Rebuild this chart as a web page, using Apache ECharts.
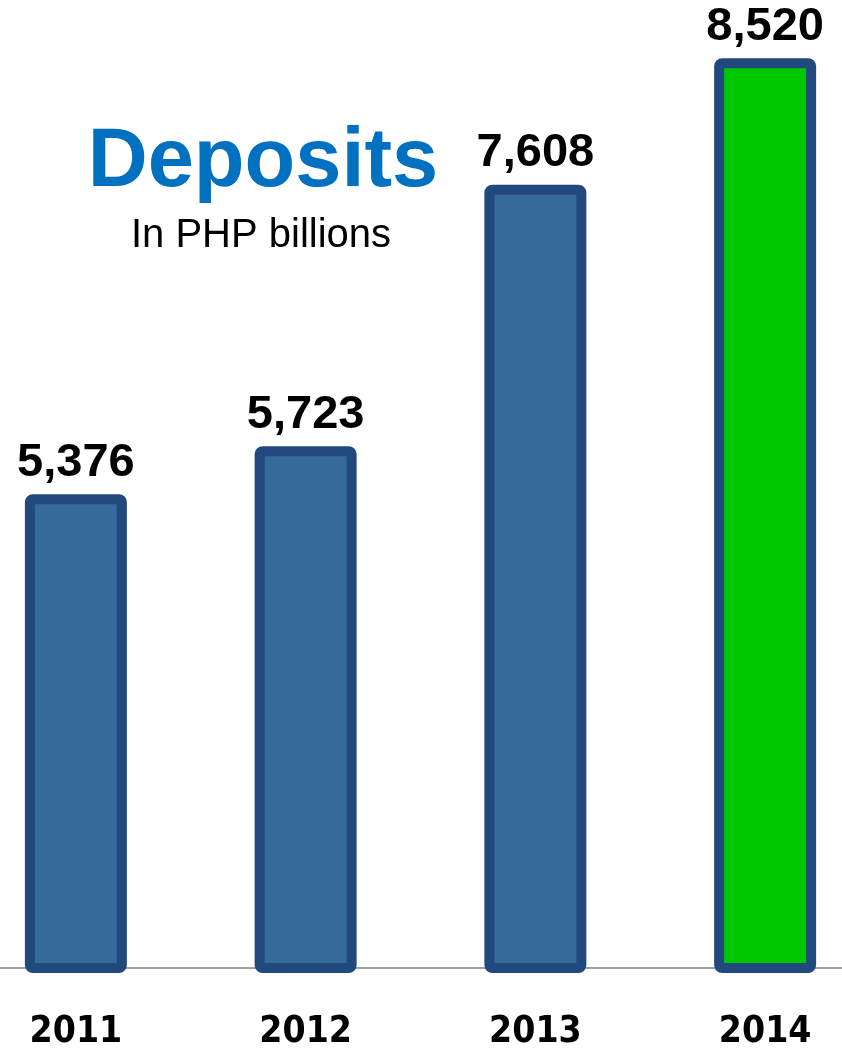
<!DOCTYPE html>
<html>
<head>
    <meta charset="utf-8">
    <title>Deposits</title>
    <style>
        html, body { margin: 0; padding: 0; background: #fff; }
        #main { width: 842px; height: 1048px; }
    </style>
</head>
<body>
    <div id="main"></div>
    <script src="https://cdn.jsdelivr.net/npm/echarts@6/dist/echarts.min.js"></script>
    <script>
        // data
        var years = ['2011', '2012', '2013', '2014'];
        var deposits = [5376, 5723, 7608, 8520];
        var barColors = ['#356a9b', '#356a9b', '#356a9b', '#00c800'];

        var myChart = echarts.init(document.getElementById('main'));

        var option = {
            backgroundColor: '#fff',
            animation: false,
            graphic: [
                {
                    type: 'text',
                    x: 263,
                    y: 163,
                    style: {
                        text: 'Deposits',
                        font: 'bold 83px "Liberation Sans", Arial, sans-serif',
                        fill: '#0070c0',
                        align: 'center',
                        verticalAlign: 'middle'
                    }
                },
                {
                    type: 'text',
                    x: 261,
                    y: 236,
                    style: {
                        text: 'In PHP billions',
                        font: '40px "Liberation Sans", Arial, sans-serif',
                        fill: '#000',
                        align: 'center',
                        verticalAlign: 'middle'
                    }
                }
            ],
            grid: {
                left: -39,
                right: -38,
                top: 0,
                bottom: 80,
                containLabel: false,
                outerBoundsMode: 'none'
            },
            xAxis: {
                type: 'category',
                data: years,
                axisTick: { show: false },
                axisLine: { lineStyle: { color: '#a0a0a0', width: 2 } },
                axisLabel: {
                    margin: 46,
                    color: '#000',
                    fontSize: 37,
                    fontWeight: 'bold',
                    fontFamily: '"DejaVu Sans Condensed", "DejaVu Sans", sans-serif'
                }
            },
            yAxis: {
                type: 'value',
                min: 1960,
                max: 8940,
                show: false,
                splitLine: { show: false }
            },
            series: [
                {
                    type: 'bar',
                    barWidth: 102,
                    data: deposits.map(function (v, i) {
                        return { value: v, itemStyle: { color: barColors[i] } };
                    }),
                    itemStyle: {
                        borderColor: '#21497d',
                        borderWidth: 10,
                        borderRadius: 3
                    },
                    label: {
                        show: true,
                        position: 'top',
                        distance: 8,
                        color: '#000',
                        fontSize: 47,
                        fontWeight: 'bold',
                        fontFamily: '"Liberation Sans", Arial, sans-serif',
                        formatter: function (p) {
                            return p.value.toLocaleString('en-US');
                        }
                    }
                }
            ]
        };
        myChart.setOption(option);
    </script>
</body>
</html>
